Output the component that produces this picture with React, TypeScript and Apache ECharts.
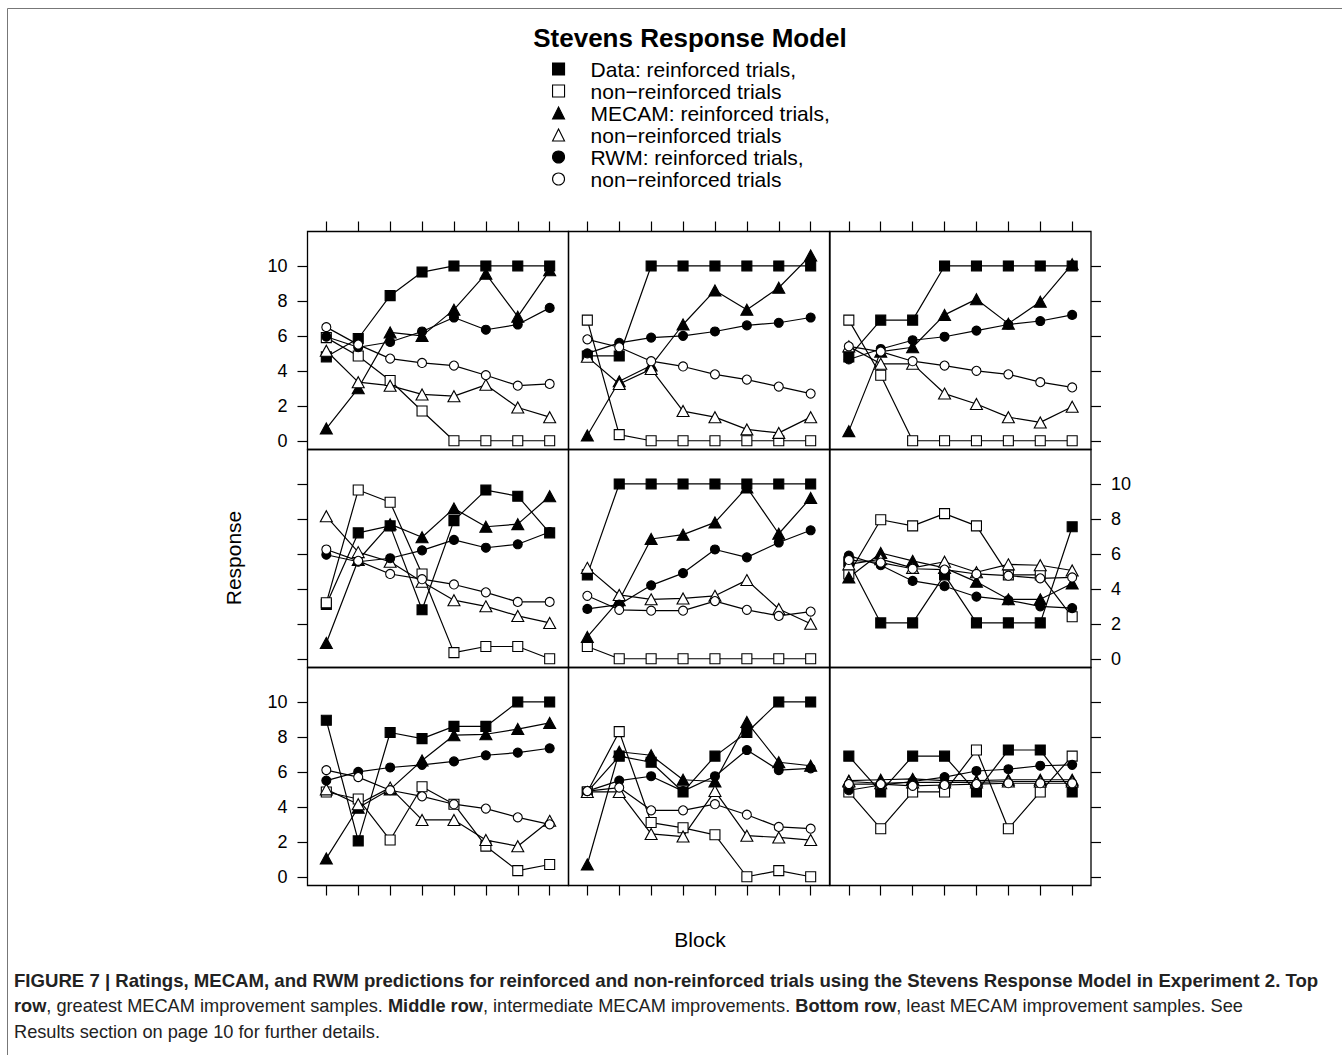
import React, { useEffect, useRef } from 'react';
import * as echarts from 'echarts';

// Block numbers (x positions)
const blocks = [1, 2, 3, 4, 5, 6, 7, 8];
const yTickValues = [0, 2, 4, 6, 8, 10];

// Panels in reading order: top-left, top-mid, top-right, mid-left, mid-mid, mid-right, bottom-left, bottom-mid, bottom-right
const dataReinforced = [
  [4.8, 5.85, 8.3, 9.65, 10, 10, 10, 10],
  [4.85, 4.85, 10, 10, 10, 10, 10, 10],
  [4.8, 6.9, 6.9, 10, 10, 10, 10, 10],
  [3.1, 7.2, 7.6, 2.8, 7.9, 9.65, 9.3, 7.2],
  [4.8, 10, 10, 10, 10, 10, 10, 10],
  [5.55, 2.05, 2.05, 4.8, 2.05, 2.05, 2.05, 7.55],
  [8.95, 2.05, 8.25, 7.9, 8.6, 8.6, 10, 10],
  [4.85, 6.9, 6.55, 4.85, 6.9, 8.25, 10, 10],
  [6.9, 4.85, 6.9, 6.9, 4.85, 7.25, 7.25, 4.85],
];
const dataNonReinforced = [
  [5.9, 4.85, 3.45, 1.7, 0, 0, 0, 0],
  [6.9, 0.35, 0, 0, 0, 0, 0, 0],
  [6.9, 3.75, 0, 0, 0, 0, 0, 0],
  [3.2, 9.65, 8.95, 4.85, 0.35, 0.7, 0.7, 0],
  [0.7, 0, 0, 0, 0, 0, 0, 0],
  [4.85, 7.95, 7.6, 8.3, 7.6, 4.8, 4.8, 2.4],
  [4.85, 4.45, 2.1, 5.15, 4.15, 1.75, 0.35, 0.7],
  [4.85, 8.3, 3.1, 2.8, 2.4, 0, 0.35, 0],
  [4.85, 2.75, 4.85, 4.85, 7.25, 2.75, 4.85, 6.9],
];
const mecamReinforced = [
  [0.7, 3.0, 6.2, 6.0, 7.5, 9.55, 7.1, 9.75],
  [0.3, 3.4, 4.3, 6.65, 8.6, 7.5, 8.75, 10.6],
  [0.55, 5.1, 5.35, 7.2, 8.1, 6.7, 7.95, 10.1],
  [0.9, 5.65, 7.7, 6.95, 8.6, 7.55, 7.7, 9.3],
  [1.25, 3.35, 6.85, 7.1, 7.8, 9.8, 7.15, 9.2],
  [4.65, 6.05, 5.6, 5.2, 4.4, 3.4, 3.4, 4.3],
  [1.05, 3.95, 5.0, 6.65, 8.1, 8.15, 8.45, 8.8],
  [0.7, 7.15, 6.95, 5.55, 5.45, 8.85, 6.55, 6.35],
  [5.5, 5.55, 5.6, 5.5, 5.5, 5.55, 5.55, 5.55],
];
const mecamNonReinforced = [
  [5.15, 3.35, 3.15, 2.65, 2.55, 3.2, 1.9, 1.35],
  [4.8, 3.25, 4.1, 1.7, 1.35, 0.65, 0.45, 1.35],
  [5.4, 4.4, 4.4, 2.7, 2.1, 1.35, 1.05, 1.95],
  [8.15, 6.1, 5.55, 4.4, 3.35, 3.0, 2.45, 2.05],
  [5.2, 3.65, 3.4, 3.45, 3.6, 4.5, 2.85, 2.0],
  [5.4, 5.7, 5.2, 5.55, 4.95, 5.4, 5.35, 5.05],
  [5.0, 4.15, 5.1, 3.25, 3.25, 2.1, 1.75, 3.2],
  [4.85, 4.85, 2.45, 2.3, 4.9, 2.35, 2.25, 2.1],
  [5.45, 5.35, 5.4, 5.4, 5.4, 5.45, 5.45, 5.45],
];
const rwmReinforced = [
  [5.95, 5.35, 5.65, 6.25, 7.05, 6.35, 6.65, 7.6],
  [5.0, 5.6, 5.9, 6.0, 6.25, 6.6, 6.75, 7.05],
  [4.65, 5.25, 5.75, 5.95, 6.3, 6.65, 6.85, 7.2],
  [5.95, 5.55, 5.75, 6.2, 6.8, 6.35, 6.55, 7.25],
  [2.85, 3.1, 4.2, 4.9, 6.25, 5.8, 6.65, 7.35],
  [5.9, 5.35, 4.45, 4.15, 3.55, 3.35, 3.0, 2.9],
  [5.5, 6.0, 6.25, 6.4, 6.6, 6.95, 7.1, 7.35],
  [4.9, 5.5, 5.75, 4.9, 5.75, 7.25, 6.1, 6.2],
  [4.95, 5.25, 5.45, 5.7, 6.05, 6.15, 6.35, 6.4],
];
const rwmNonReinforced = [
  [6.5, 5.5, 4.7, 4.45, 4.3, 3.75, 3.15, 3.25],
  [5.8, 5.35, 4.55, 4.25, 3.8, 3.5, 3.1, 2.7],
  [5.4, 5.1, 4.55, 4.3, 4.0, 3.8, 3.35, 3.05],
  [6.25, 5.6, 4.85, 4.55, 4.25, 3.8, 3.25, 3.25],
  [3.6, 2.8, 2.75, 2.75, 3.3, 2.8, 2.45, 2.7],
  [5.65, 5.5, 5.15, 5.1, 4.85, 4.75, 4.6, 4.65],
  [6.1, 5.7, 4.95, 4.6, 4.15, 3.9, 3.4, 3.0],
  [4.9, 5.1, 3.8, 3.8, 4.15, 3.55, 2.85, 2.75],
  [5.3, 5.3, 5.2, 5.25, 5.3, 5.35, 5.35, 5.35],
];

const seriesNames = [
  'Data: reinforced trials,',
  'Data non−reinforced trials',
  'MECAM: reinforced trials,',
  'MECAM non−reinforced trials',
  'RWM: reinforced trials,',
  'RWM non−reinforced trials',
];

const FONT = '"Liberation Sans", Arial, Helvetica, sans-serif';

export default function App() {
  const ref = useRef<HTMLDivElement>(null);

  useEffect(() => {
    if (!ref.current) return;
    const chart = echarts.init(ref.current, null, { renderer: 'svg' });

    const defs = [
      { name: seriesNames[0], values: dataReinforced, symbol: 'rect', size: 10, filled: true },
      { name: seriesNames[1], values: dataNonReinforced, symbol: 'rect', size: 10, filled: false },
      { name: seriesNames[2], values: mecamReinforced, symbol: 'triangle', size: [12, 11], filled: true },
      { name: seriesNames[3], values: mecamNonReinforced, symbol: 'triangle', size: [12, 11], filled: false },
      { name: seriesNames[4], values: rwmReinforced, symbol: 'circle', size: 9, filled: true },
      { name: seriesNames[5], values: rwmNonReinforced, symbol: 'circle', size: 9, filled: false },
    ];

    const colLeft = [307.5, 568.5, 830];
    const rowTop = [231.5, 449.5, 667.5];
    const panelW = 261;
    const panelH = 218;
    const tickLine = { color: '#000', width: 1.2 };

    const grids: any[] = [];
    const xAxes: any[] = [];
    const yAxes: any[] = [];
    const series: any[] = [];

    for (let r = 0; r < 3; r++) {
      for (let c = 0; c < 3; c++) {
        const idx = r * 3 + c;
        grids.push({
          left: colLeft[c], top: rowTop[r], width: panelW, height: panelH,
          show: true, borderColor: '#000', borderWidth: 1.3, backgroundColor: 'transparent',
        });
        xAxes.push({
          gridIndex: idx, type: 'value', min: 0.41, max: 8.59,
          position: r === 0 ? 'top' : 'bottom',
          axisLine: { show: false, onZero: false }, splitLine: { show: false },
          axisLabel: { show: false },
          axisTick: { show: r !== 1, customValues: blocks, length: 10, inside: false, lineStyle: tickLine },
        });
        const yPos = c === 2 ? 'right' : 'left';
        const showYTicks = c === 0 || c === 2;
        const showYLabels = (r !== 1 && c === 0) || (r === 1 && c === 2);
        yAxes.push({
          gridIndex: idx, type: 'value', min: -0.5, max: 11.97,
          position: yPos,
          axisLine: { show: false, onZero: false }, splitLine: { show: false },
          axisTick: { show: showYTicks, customValues: yTickValues, length: 10, inside: false, lineStyle: tickLine },
          axisLabel: {
            show: showYLabels, customValues: yTickValues, margin: 20,
            fontSize: 18, fontFamily: FONT, color: '#000',
          },
        });
        defs.forEach((d) => {
          series.push({
            type: 'line', name: d.name, xAxisIndex: idx, yAxisIndex: idx,
            data: blocks.map((b, i) => [b, d.values[idx][i]]),
            symbol: d.symbol, symbolSize: d.size, showSymbol: true,
            lineStyle: { color: '#000', width: 1.2 },
            itemStyle: { color: d.filled ? '#000' : '#fff', borderColor: '#000', borderWidth: 1.1 },
            emphasis: { disabled: true },
            silent: true,
            z: 2,
          });
        });
      }
    }

    const icons = ['rect', 'rect', 'triangle', 'triangle', 'circle', 'circle'];

    const option: any = {
      animation: false,
      backgroundColor: '#fff',
      grid: grids,
      xAxis: xAxes,
      yAxis: yAxes,
      series,
      legend: {
        left: 552, top: 58.5, orient: 'vertical',
        itemWidth: 12, itemHeight: 12, itemGap: 1, selectedMode: false,
        padding: 0,
        textStyle: { fontSize: 21, fontFamily: FONT, color: '#000', padding: [0, 0, 0, 21] },
        itemStyle: { borderWidth: 1.1 },
        data: seriesNames.map((n, i) => ({ name: n, icon: icons[i] })),
        formatter: (name: string) => name.replace(/^(Data|MECAM|RWM) /, ''),
      },
      graphic: [
        {
          type: 'rect', silent: true,
          shape: { x: 7.5, y: 8.5, width: 1400, height: 1100 },
          style: { fill: 'none', stroke: '#777', lineWidth: 1 },
        },
        {
          type: 'text', x: 690, y: 38,
          style: { text: 'Stevens Response Model', font: `bold 26px ${FONT}`, fill: '#000', textAlign: 'center', textVerticalAlign: 'middle' },
        },
        {
          type: 'text', x: 233, y: 558, rotation: Math.PI / 2,
          style: { text: 'Response', font: `21px ${FONT}`, fill: '#000', textAlign: 'center', textVerticalAlign: 'middle' },
        },
        {
          type: 'text', x: 700, y: 939,
          style: { text: 'Block', font: `21px ${FONT}`, fill: '#000', textAlign: 'center', textVerticalAlign: 'middle' },
        },
        {
          type: 'text', x: 14, y: 980,
          style: {
            text: 'FIGURE 7 | Ratings, MECAM, and RWM predictions for reinforced and non-reinforced trials using the Stevens Response Model in Experiment 2. Top',
            font: `bold 18.6px ${FONT}`, fill: '#222', textVerticalAlign: 'middle',
          },
        },
        {
          type: 'text', x: 14, y: 1006,
          style: {
            text: '{b|row}, greatest MECAM improvement samples. {b|Middle row}, intermediate MECAM improvements. {b|Bottom row}, least MECAM improvement samples. See',
            fontSize: 18.2, fontFamily: FONT, fill: '#222', textVerticalAlign: 'middle',
            rich: { b: { fontWeight: 'bold', fontSize: 18.2, fontFamily: FONT, fill: '#222' } },
          },
        },
        {
          type: 'text', x: 14, y: 1032,
          style: { text: 'Results section on page 10 for further details.', font: `18.2px ${FONT}`, fill: '#222', textVerticalAlign: 'middle' },
        },
      ],
    };

    chart.setOption(option);
    return () => chart.dispose();
  }, []);

  return (
    <div
      ref={ref}
      style={{ position: 'absolute', left: 0, top: 0, width: 1342, height: 1055, background: '#fff' }}
    />
  );
}
